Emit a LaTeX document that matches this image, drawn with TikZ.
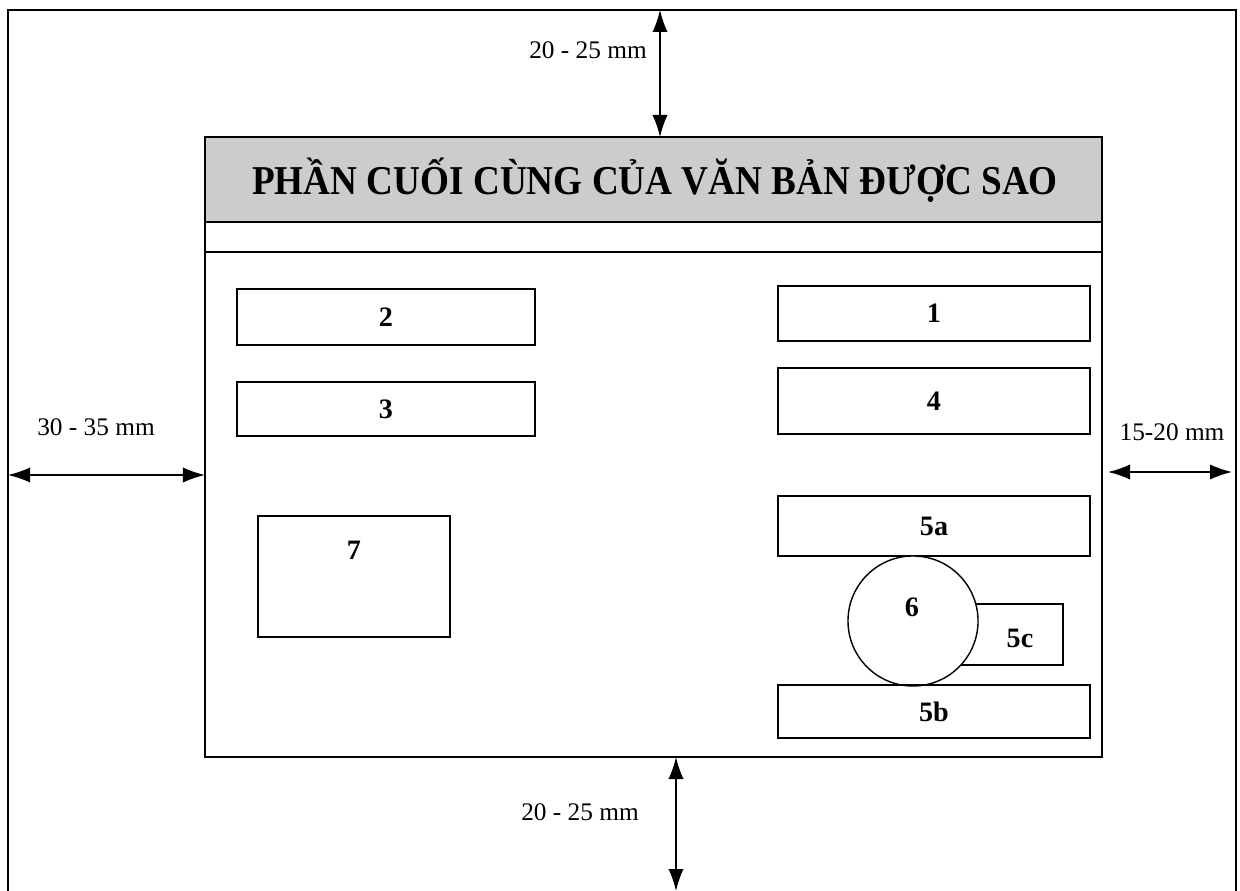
\documentclass[tikz,border=0pt]{standalone}
\usepackage{fontspec}
\setmainfont{Liberation Serif}
\usepackage{tikz}
\usetikzlibrary{positioning, arrows.meta, calc}

\tikzset{
  box/.style={draw, line width=1pt, inner sep=0pt, font=\bfseries\fontsize{20}{24}\selectfont},
  lbl/.style={font=\bfseries\fontsize{20}{24}\selectfont},
  dimtext/.style={font=\fontsize{18}{21}\selectfont},
  dimarrow/.style={{Latex[length=5.5mm,width=3.8mm]}-{Latex[length=5.5mm,width=3.8mm]}, line width=1pt}
}

\begin{document}
\begin{tikzpicture}[x=0.025cm, y=-0.025cm]
\useasboundingbox (0,0) rectangle (1240,891);

% page edges
\draw[line width=1pt] (8,891) -- (8,10) -- (1236,10) -- (1236,891);

% copied text area
\fill[gray!40] (205,137) rectangle (1102,222);
\draw[line width=1pt] (205,137) rectangle (1102,757);
\draw[line width=1pt] (205,222) -- (1102,222);
\draw[line width=1pt] (205,252) -- (1102,252);
\node[font=\bfseries\fontsize{27}{32}\selectfont] (title) at (655,180) {\scalebox{0.98}[1.08]{PHẦN CUỐI CÙNG CỦA VĂN BẢN ĐƯỢC SAO}};

% left column
\node[box, minimum width=7.45cm, minimum height=1.4cm] (b2) at (386,317) {2};
\node[box, minimum width=7.45cm, minimum height=1.35cm] (b3) at (386,409) {3};
\node[box, minimum width=4.8cm, minimum height=3.025cm] (b7) at (354,576.5) {};
\node[lbl] (l7) at (354,550) {7};

% right column
\node[box, minimum width=7.8cm, minimum height=1.375cm] (b1) at (934,313.5) {1};
\node[box, minimum width=7.8cm, minimum height=1.65cm] (b4) at (934,401) {4};
\node[box, minimum width=7.8cm, minimum height=1.5cm] (b5a) at (934,526) {5a};
\node[box, minimum width=2.825cm, minimum height=1.525cm] (b5c) at (1006.5,634.5) {};
\node[lbl] (l5c) at (1020,638) {5c};
\node[box, circle, fill=white, minimum size=3.25cm] (b6) at (913,621) {};
\node[lbl] (l6) at (912,607) {6};
\node[box, minimum width=7.8cm, minimum height=1.325cm] (b5b) at (934,711.5) {5b};

% margins
\coordinate (tA) at (660,10);
\coordinate (tB) at (660,137);
\coordinate (bA) at (676,757);
\coordinate (bB) at (676,891);
\coordinate (lA) at (8,475);
\coordinate (lB) at (205,475);
\coordinate (rA) at (1108,472);
\coordinate (rB) at (1232,472);
\draw[dimarrow] (tA) -- (tB);
\draw[dimarrow] (bA) -- (bB);
\draw[dimarrow] (lA) -- (lB);
\draw[dimarrow] (rA) -- (rB);

\node[dimtext] (mt) at (588,50) {20 - 25 mm};
\node[dimtext] (mb) at (580,812) {20 - 25 mm};
\node[dimtext] (ml) at (96,427) {30 - 35 mm};
\node[dimtext] (mr) at (1172,432) {15-20 mm};
\end{tikzpicture}
\end{document}
